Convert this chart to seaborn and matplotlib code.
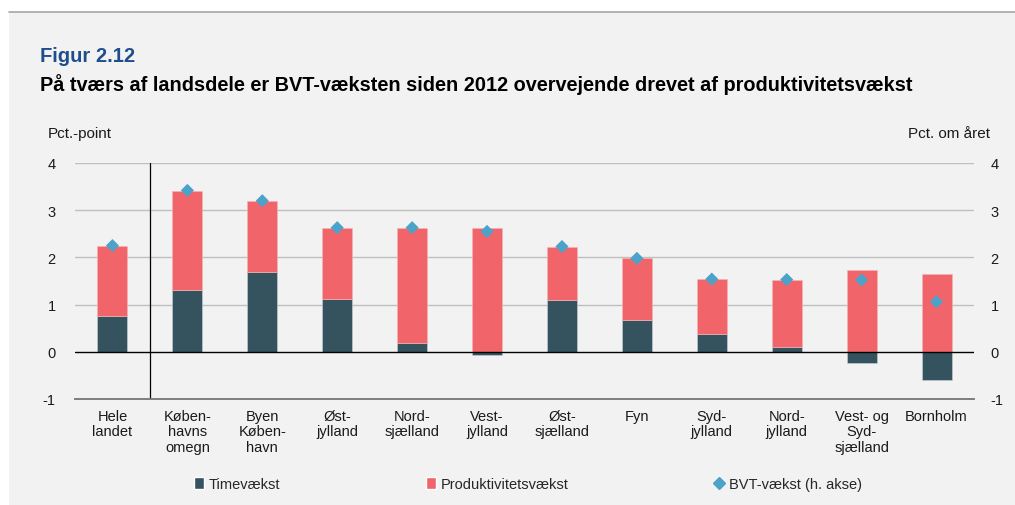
import numpy as np
import pandas as pd
import matplotlib
matplotlib.use("Agg")
import matplotlib.pyplot as plt
import seaborn as sns
from matplotlib.patches import Rectangle, Patch
from matplotlib.lines import Line2D

# Data
regioner = ["Hele\nlandet", "Køben-\nhavns\nomegn", "Byen\nKøben-\nhavn", "Øst-\njylland",
            "Nord-\nsjælland", "Vest-\njylland", "Øst-\nsjælland", "Fyn", "Syd-\njylland",
            "Nord-\njylland", "Vest- og\nSyd-\nsjælland", "Bornholm"]
timevaekst = [0.75, 1.30, 1.70, 1.12, 0.19, -0.07, 1.09, 0.67, 0.37, 0.10, -0.23, -0.59]
produktivitet = [1.50, 2.10, 1.50, 1.51, 2.43, 2.62, 1.14, 1.31, 1.17, 1.43, 1.74, 1.65]
bvt_vaekst = [2.25, 3.42, 3.20, 2.63, 2.63, 2.55, 2.23, 1.98, 1.54, 1.53, 1.52, 1.06]

MORK = "#35525F"
ROD = "#F0646A"
BLA = "#4BA3C9"
BG = "#F2F2F2"

sns.set_theme(style="white")
plt.rcParams["font.family"] = ["Liberation Sans", "DejaVu Sans"]

df = pd.DataFrame({"region": regioner, "time": timevaekst,
                   "prod": produktivitet, "bvt": bvt_vaekst})
df["x"] = np.arange(len(df))
# produktivitet stables oven paa positiv timevaekst, ellers fra 0
df["bund"] = df["time"].clip(lower=0)

fig = plt.figure(figsize=(10.15, 5.06), dpi=100)
fig.patch.set_facecolor("white")
fig.patches.append(Rectangle((9 / 1015, 0), 1, 1 - 13 / 506, transform=fig.transFigure,
                             facecolor=BG, edgecolor="none", zorder=-10))
fig.add_artist(Line2D([9 / 1015, 1], [1 - 13 / 506] * 2, color="#A6A6A6", lw=1.2))

ax = fig.add_axes([75 / 1015, 106 / 506, 899 / 1015, 236 / 506])
ax.set_facecolor(BG)
ax2 = ax.twinx()

bw = 0.4
ax.bar(df["x"], df["time"], width=bw, color=MORK, edgecolor="#C9D3D8", linewidth=0.4, zorder=3)
ax.bar(df["x"], df["prod"], width=bw, bottom=df["bund"], color=ROD,
       edgecolor="#F7B5B8", linewidth=0.4, zorder=3)
sns.scatterplot(data=df, x="x", y="bvt", ax=ax2, marker="D", s=45, color=BLA,
                edgecolor="none", zorder=5, legend=False)

for a in (ax, ax2):
    a.set_ylim(-1, 4)
    a.set_xlim(-0.5, len(df) - 0.5)
    a.set_yticks([-1, 0, 1, 2, 3, 4])
    a.set_yticklabels(["-1", "0", "1", "2", "3", "4"], fontsize=10.5)
    a.set_ylabel("")
    a.set_xlabel("")
    for s in ("top", "left", "right"):
        a.spines[s].set_visible(False)
    a.spines["bottom"].set_color("#7F7F7F")
    a.tick_params(axis="y", length=0, pad=14, colors="#1A1A1A")
ax2.tick_params(axis="y", pad=12)
ax2.patch.set_visible(False)

for v in [1, 2, 3, 4]:
    ax.axhline(v, color="#BFBFBF", lw=1.0, zorder=1)
ax.axhline(0, color="#000000", lw=1.0, zorder=4)
ax.axvline(0.5, color="#000000", lw=0.9, zorder=4)

# kategoriske akse: tickmarks mellem grupper, labels i midten
ax.set_xticks(np.arange(len(df) + 1) - 0.5)
ax.set_xticklabels([])
ax.set_xticks(df["x"], minor=True)
ax.set_xticklabels(regioner, minor=True, fontsize=10.5, linespacing=1.15, va="top")
ax.tick_params(axis="x", which="major", length=5, width=1, color="#7F7F7F", direction="out")
ax.tick_params(axis="x", which="minor", length=0, pad=7, colors="#1A1A1A")
ax2.set_xticks([])

fig.text(40 / 1015, 1 - 56 / 506, "Figur 2.12", color="#1F4E8C", fontsize=14.5,
         fontweight="bold", va="center")
fig.text(40 / 1015, 1 - 85 / 506,
         "På tværs af landsdele er BVT-væksten siden 2012 overvejende drevet af produktivitetsvækst",
         color="#000000", fontsize=14.3, fontweight="bold", va="center")
fig.text(48 / 1015, 1 - 134 / 506, "Pct.-point", fontsize=11, va="center", color="#1A1A1A")
fig.text(990 / 1015, 1 - 134 / 506, "Pct. om året", fontsize=11, va="center", ha="right",
         color="#1A1A1A")

handles = [Patch(facecolor=MORK, label="Timevækst"),
           Patch(facecolor=ROD, label="Produktivitetsvækst"),
           Line2D([], [], marker="D", color=BLA, linestyle="none", markersize=6,
                  label="BVT-vækst (h. akse)")]
leg = fig.legend(handles=handles, ncol=3, loc="center", bbox_to_anchor=(0.52, 1 - 485 / 506),
                 frameon=False, fontsize=10.5, handlelength=0.7, handleheight=0.9,
                 handletextpad=0.3, columnspacing=10.0)

fig.savefig("out.png", dpi=100, facecolor=fig.get_facecolor())
